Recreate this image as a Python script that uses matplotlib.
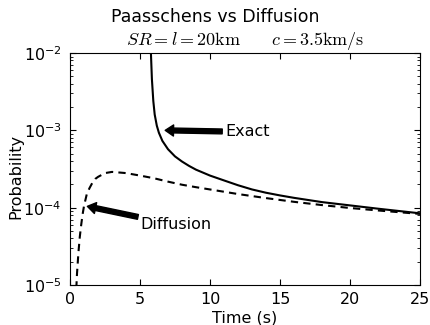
import numpy as np
import matplotlib
matplotlib.use('Agg')
import matplotlib.pyplot as plt
from matplotlib.ticker import FixedLocator, LogLocator, NullFormatter

plt.rcParams.update({'font.size': 11.5, 'font.family': 'DejaVu Sans'})

# exact (Paasschens) solution, probability per time step
t_exact = [5.74, 5.78, 5.85, 5.95, 6.05, 6.2, 6.35, 6.6, 7.0, 7.5, 8.0, 8.5,
           9.0, 10, 11, 12, 13, 14, 15, 16, 18, 20, 22, 25]
p_exact = [3e-2, 1.0e-2, 4.6e-3, 2.4e-3, 1.6e-3, 1.15e-3, 9.3e-4, 7.3e-4,
           5.7e-4, 4.6e-4, 3.95e-4, 3.47e-4, 3.1e-4, 2.6e-4, 2.25e-4,
           1.95e-4, 1.72e-4, 1.56e-4, 1.44e-4, 1.34e-4, 1.18e-4, 1.07e-4,
           9.7e-5, 8.45e-5]

# diffusion approximation
t_diff = [0.45, 0.5, 0.6, 0.7, 0.8, 0.9, 1.0, 1.2, 1.4, 1.6, 1.8, 2.0, 2.5,
          3.0, 3.5, 4, 5, 6, 7, 8, 9, 10, 12, 14, 16, 18, 20, 22, 25]
p_diff = [9e-6, 1.4e-5, 2.6e-5, 4.2e-5, 6.0e-5, 8.2e-5, 1.05e-4, 1.5e-4,
          1.8e-4, 2.1e-4, 2.35e-4, 2.5e-4, 2.8e-4, 2.9e-4, 2.85e-4, 2.8e-4,
          2.6e-4, 2.4e-4, 2.17e-4, 1.98e-4, 1.84e-4, 1.72e-4, 1.5e-4,
          1.33e-4, 1.19e-4, 1.08e-4, 9.9e-5, 9.2e-5, 8.3e-5]

x_ticks = [0, 5, 10, 15, 20, 25]
y_ticks = [1e-5, 1e-4, 1e-3, 1e-2]

fig = plt.figure(figsize=(4.3, 3.25), dpi=100, facecolor='w')
ax = fig.add_axes([70 / 430, 40 / 325, 350 / 430, 232 / 325])

ax.semilogy(t_exact, p_exact, color='k', linewidth=1.5, linestyle='-')
ax.semilogy(t_diff, p_diff, color='k', linewidth=1.5, linestyle=(0, (3.5, 2.5)))

ax.set_xlim(0, 25)
ax.set_ylim(1e-5, 1e-2)
ax.set_xticks(x_ticks)
ax.yaxis.set_major_locator(FixedLocator(y_ticks))
ax.yaxis.set_minor_locator(LogLocator(base=10, subs=np.arange(2, 10)))
ax.yaxis.set_minor_formatter(NullFormatter())
ax.tick_params(which='both', direction='in', top=True, right=True, labelsize=11.5)
ax.tick_params(which='major', length=4, width=0.8)
ax.tick_params(axis='x', which='major', pad=5)
ax.tick_params(axis='y', which='major', pad=6)
ax.tick_params(which='minor', length=2, width=0.6)

arrow = dict(facecolor='k', edgecolor='k', shrink=0,
             width=3.5, headwidth=8, headlength=6)
ax.annotate('Exact', xy=(6.8, 1.0e-3), xytext=(11.07, 9.66e-4),
            ha='left', va='center', fontsize=11.5, arrowprops=arrow)
ax.annotate('Diffusion', xy=(1.24, 1.04e-4), xytext=(5.05, 5.97e-5),
            ha='left', va='center', fontsize=11.5, arrowprops=arrow)

ax.set_xlabel('Time (s)', fontsize=11.5, va='top')
ax.xaxis.set_label_coords(0.5, -0.112)
ax.set_ylabel('Probability', fontsize=11.5)
ax.yaxis.set_label_coords(-0.134, 0.466)

ax.text(0.5, 1.035, r'$SR=l=20\mathrm{km}\quad\quad c=3.5\mathrm{km/s}$',
        transform=ax.transAxes, ha='center', va='baseline', fontsize=13,
        math_fontfamily='cm')
fig.text(0.5, 1 - 22 / 325, 'Paasschens vs Diffusion', ha='center',
         va='baseline', fontsize=12.5)

plt.savefig('out.png', dpi=100)
plt.close()
